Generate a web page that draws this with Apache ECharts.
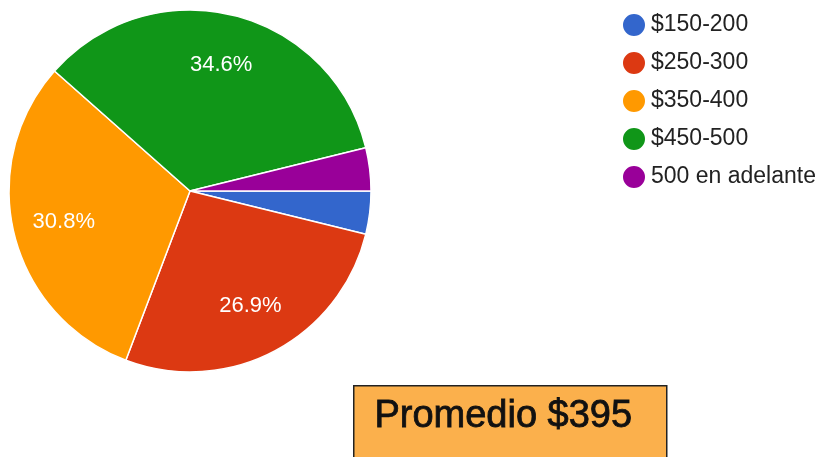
<!DOCTYPE html>
<html>
<head>
<meta charset="utf-8">
<script src="https://cdn.jsdelivr.net/npm/echarts@6/dist/echarts.min.js"></script>
<style>
  html, body { margin: 0; padding: 0; background: #fff; }
  #chart { width: 829px; height: 457px; }
</style>
</head>
<body>
<div id="chart"></div>
<script>
// respuestas por rango de precio
const categories = ['$150-200', '$250-300', '$350-400', '$450-500', '500 en adelante']
const counts = [1, 7, 8, 9, 1]
const colors = ['#3366cc', '#dc3912', '#ff9900', '#109618', '#990099']
const averageText = 'Promedio $395'

const pieData = categories.map((name, i) => ({
  name,
  value: counts[i],
  itemStyle: { color: colors[i] }
}))

const chart = echarts.init(document.getElementById('chart'))

const option = {
  animation: false,
  color: colors,
  legend: {
    orient: 'vertical',
    left: 616,
    top: 7,
    icon: 'circle',
    itemWidth: 24,
    itemHeight: 24,
    itemGap: 12,
    textStyle: {
      fontFamily: 'Liberation Sans',
      fontSize: 23,
      color: '#222'
    },
    data: categories
  },
  series: [
    {
      name: 'rango',
      type: 'pie',
      center: [190, 191],
      radius: [0, 181],
      startAngle: 0,
      clockwise: true,
      label: { show: false },
      labelLine: { show: false },
      itemStyle: { borderColor: '#fff', borderWidth: 1.5 },
      data: pieData
    },
    {
      // capa transparente solo para ubicar las etiquetas de porcentaje
      name: 'etiquetas',
      type: 'pie',
      center: [190, 191],
      radius: [96, 158],
      startAngle: 0,
      clockwise: true,
      silent: true,
      itemStyle: { color: 'transparent', borderWidth: 0 },
      label: {
        show: true,
        position: 'inside',
        color: '#fff',
        fontFamily: 'Liberation Sans',
        fontSize: 22,
        formatter: p => (p.percent < 5 ? '' : p.percent.toFixed(1) + '%')
      },
      labelLine: { show: false },
      data: counts.map((v, i) => ({ name: categories[i], value: v }))
    }
  ],
  graphic: [
    {
      type: 'rect',
      left: 353,
      top: 385,
      shape: { width: 313, height: 80 },
      style: { fill: '#fbb04c', stroke: '#222', lineWidth: 1.5 }
    },
    {
      type: 'text',
      left: 374,
      top: 397,
      style: {
        text: averageText,
        fontFamily: 'Liberation Sans',
        fontSize: 38,
        fill: '#111',
        stroke: '#111',
        lineWidth: 0.8
      }
    }
  ]
}

chart.setOption(option)
</script>
</body>
</html>
